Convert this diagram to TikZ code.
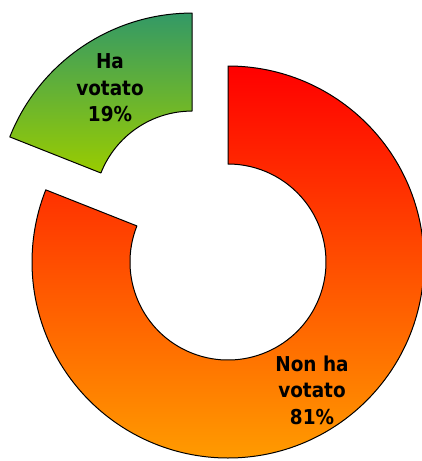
\documentclass[tikz,border=0pt]{standalone}
\usepackage{fontspec}
\newfontfamily\labfont[FakeStretch=0.9]{DejaVu Sans}
\definecolor{redtop}{RGB}{255,0,0}
\definecolor{orangemid}{RGB}{255,118,0}
\definecolor{orangebot}{RGB}{255,155,0}
\definecolor{greentop}{RGB}{51,153,102}
\definecolor{greenmid}{RGB}{110,182,50}
\definecolor{greenbot}{RGB}{153,204,0}
\tikzset{
  segment/.style={draw=black, line width=1pt, line join=round},
  lbl/.style={font=\labfont\bfseries\fontsize{20.5}{26.5}\selectfont, align=center, inner sep=0pt, text=black}
}
\begin{document}
\begin{tikzpicture}[x=1pt,y=1pt]
\useasboundingbox (0,0) rectangle (422,-461);
% big segment (81%)
\begin{scope}[shift={(228,-262)}]
  \path[segment, top color=redtop, middle color=orangemid, bottom color=orangebot]
    (90:196) arc[start angle=90, end angle=-201.6, radius=196]
    -- (158.4:98) arc[start angle=158.4, end angle=450, radius=98] -- cycle;
\end{scope}
% exploded small segment (19%)
\begin{scope}[shift={(228,-262)}, shift={(124.2:64)}]
  \path[segment, top color=greentop, middle color=greenmid, bottom color=greenbot]
    (90:196) arc[start angle=90, end angle=158.4, radius=196]
    -- (158.4:98) arc[start angle=158.4, end angle=90, radius=98] -- cycle;
\end{scope}
\node[lbl] (ha) at (110,-88) {Ha\\votato\\19\%};
\node[lbl] (nonha) at (312,-390) {Non ha\\votato\\81\%};
\end{tikzpicture}
\end{document}
